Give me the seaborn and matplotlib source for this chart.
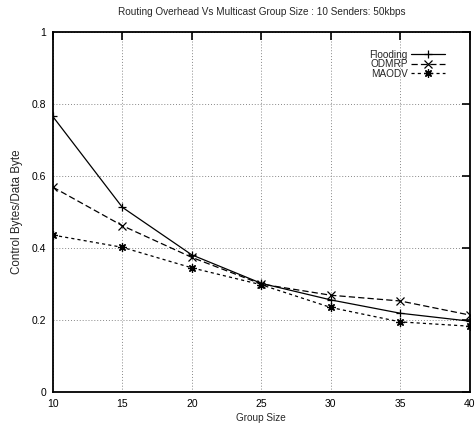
import matplotlib
matplotlib.use("Agg")
import matplotlib.pyplot as plt
import seaborn as sns
import pandas as pd

group_size = [10, 15, 20, 25, 30, 35, 40]
flooding = [0.765, 0.513, 0.381, 0.302, 0.256, 0.219, 0.197]
odmrp = [0.569, 0.462, 0.374, 0.300, 0.269, 0.253, 0.214]
maodv = [0.436, 0.402, 0.345, 0.298, 0.235, 0.195, 0.183]
protocols = ["Flooding", "ODMRP", "MAODV"]

df = pd.DataFrame({
    "Group Size": group_size * 3,
    "value": flooding + odmrp + maodv,
    "protocol": [p for p in protocols for _ in group_size],
})

sns.set_style("white")
plt.rcParams["font.family"] = ["Liberation Sans", "DejaVu Sans"]
fs = 7.2

fig = plt.figure(figsize=(4.76, 4.30), dpi=100)
ax = fig.add_axes([0.111, 0.088, 0.876, 0.838])

markers = {"Flooding": "+", "ODMRP": "x", "MAODV": (8, 2, 0)}
dashes = {"Flooding": "", "ODMRP": (5, 2.5), "MAODV": (2.5, 2.5)}
sns.lineplot(data=df, x="Group Size", y="value", style="protocol",
             style_order=protocols, markers=markers, dashes=dashes,
             color="black", linewidth=0.9, markersize=6, markeredgewidth=0.9,
             markeredgecolor="black", legend=False, ax=ax)

ax.set_xlim(10, 40)
ax.set_ylim(0, 1)
ax.set_xticks([10, 15, 20, 25, 30, 35, 40])
ax.set_yticks([0, 0.2, 0.4, 0.6, 0.8, 1])
ax.set_yticklabels(["0", "0.2", "0.4", "0.6", "0.8", "1"])
ax.grid(True, color="#888888", linestyle=(0, (1, 2)), linewidth=0.7)
ax.tick_params(direction="in", length=6, width=1.2, top=True, right=True,
               labelsize=fs + 0.3, pad=5, colors="black")
for s in ax.spines.values():
    s.set_color("black")
    s.set_linewidth(1.3)

ax.set_xlabel("Group Size", fontsize=fs, labelpad=3)
ax.set_ylabel("Control Bytes/Data Byte", fontsize=8.4, labelpad=6)
ax.set_title("Routing Overhead Vs Multicast Group Size : 10 Senders: 50kbps",
             fontsize=fs, pad=12)

ax.legend(handles=ax.lines[:3], labels=protocols, loc="upper right",
          bbox_to_anchor=(0.94, 0.95), frameon=False, markerfirst=False,
          fontsize=fs, handlelength=3.4, handletextpad=0.3,
          labelspacing=-0.05, borderaxespad=0, borderpad=0)

fig.savefig("out.png", dpi=100)
